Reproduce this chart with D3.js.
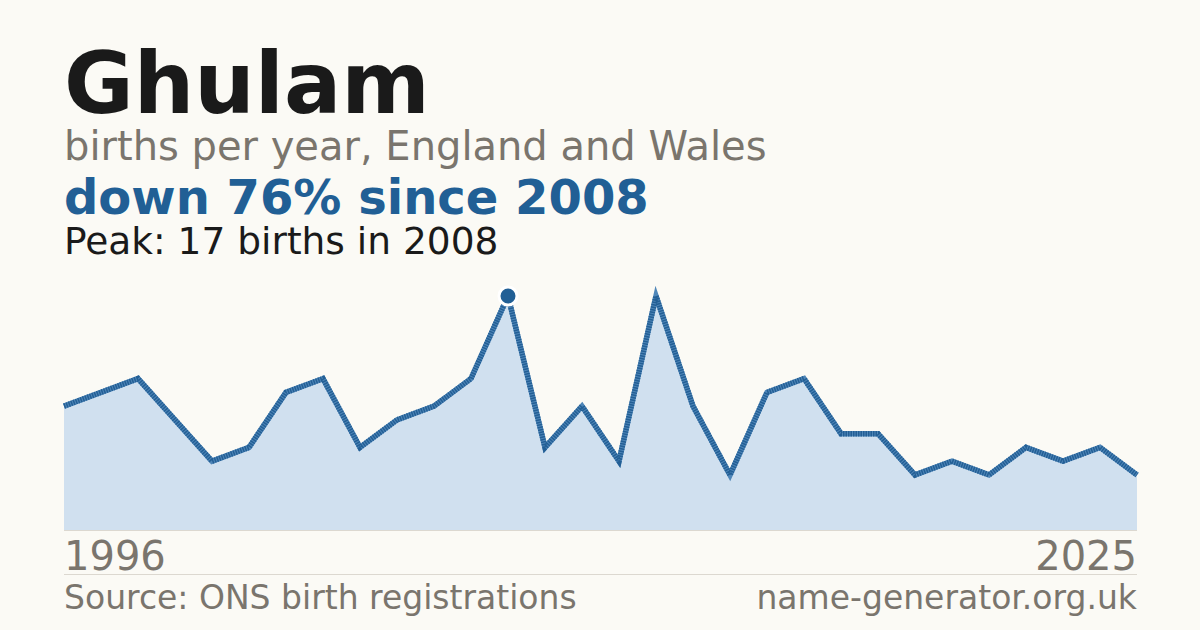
<!DOCTYPE html>
<html>
<head>
<meta charset="utf-8">
<script src="https://cdn.jsdelivr.net/npm/d3@7"></script>
<style>
  html, body { margin: 0; padding: 0; background: #fbfaf5; }
  svg { display: block; font-family: "DejaVu Sans", sans-serif; }
</style>
</head>
<body>
<svg id="chart" width="1200" height="630"></svg>
<script>
// data
const years = d3.range(1996, 2026);
const births = [9, 10, 11, 8, 5, 6, 10, 11, 6, 8, 9, 11, 17, 6, 9, 5, 17, 9, 4, 10, 11, 7, 7, 4, 5, 4, 6, 5, 6, 4];
const peakYear = 2008, peakValue = 17;

const W = 1200, H = 630;
const plotLeft = 64, plotRight = 1137, plotTop = 296, plotBottom = 530;

const svg = d3.select("#chart");

svg.append("rect").attr("width", W).attr("height", H).attr("fill", "#fbfaf5");

let x = d3.scaleLinear().domain([years[0], years[years.length - 1]]).range([plotLeft, plotRight]);
let y = d3.scaleLinear().domain([0, peakValue]).range([plotBottom, plotTop]);

const data = years.map((yr, i) => ({ year: yr, n: births[i] }));

// area
svg.append("path")
    .datum(data)
    .attr("fill", "#d0e0ef")
    .attr("d", d3.area().x(d => x(d.year)).y0(y(0)).y1(d => y(d.n)));

// baseline
svg.append("line")
    .attr("x1", plotLeft).attr("x2", plotRight)
    .attr("y1", plotBottom + 0.5).attr("y2", plotBottom + 0.5)
    .attr("stroke", "#dcd8d0").attr("stroke-width", 1);

const line = d3.line().x(d => x(d.year)).y(d => y(d.n));

// striped line: light underlay + dense dashes
svg.append("path")
    .datum(data)
    .attr("fill", "none")
    .attr("stroke", "#4f86b8")
    .attr("stroke-width", 5.5)
    .attr("d", line);
svg.append("path")
    .datum(data)
    .attr("fill", "none")
    .attr("stroke", "#235f95")
    .attr("stroke-width", 5.5)
    .attr("stroke-dasharray", "1.5 1")
    .attr("d", line);

// peak marker
svg.append("circle")
    .attr("cx", x(peakYear)).attr("cy", y(peakValue))
    .attr("r", 9)
    .attr("fill", "#215f95")
    .attr("stroke", "#ffffff")
    .attr("stroke-width", 3);

// titles
svg.append("text").attr("x", 64).attr("y", 113)
    .attr("font-size", 85).attr("font-weight", "bold").attr("fill", "#1a1a1a")
    .text("Ghulam");
svg.append("text").attr("x", 64).attr("y", 160)
    .attr("font-size", 40).attr("fill", "#7a756d")
    .text("births per year, England and Wales");
svg.append("text").attr("x", 64).attr("y", 214)
    .attr("font-size", 48).attr("font-weight", "bold").attr("fill", "#215f95")
    .text("down 76% since 2008");
svg.append("text").attr("x", 64).attr("y", 254)
    .attr("font-size", 37.5).attr("fill", "#1a1a1a")
    .text("Peak: 17 births in 2008");

// axis end labels
svg.append("text").attr("x", plotLeft).attr("y", 570)
    .attr("font-size", 40).attr("fill", "#7a756d")
    .text(years[0]);
svg.append("text").attr("x", plotRight).attr("y", 570)
    .attr("font-size", 40).attr("fill", "#7a756d").attr("text-anchor", "end")
    .text(years[years.length - 1]);

// footer rule
svg.append("line")
    .attr("x1", plotLeft).attr("x2", plotRight)
    .attr("y1", 574.5).attr("y2", 574.5)
    .attr("stroke", "#dcd8d0").attr("stroke-width", 1);

svg.append("text").attr("x", 64).attr("y", 609)
    .attr("font-size", 33).attr("fill", "#7a756d")
    .text("Source: ONS birth registrations");
svg.append("text").attr("x", plotRight).attr("y", 609)
    .attr("font-size", 33).attr("fill", "#7a756d").attr("text-anchor", "end")
    .text("name-generator.org.uk");
</script>
</body>
</html>
